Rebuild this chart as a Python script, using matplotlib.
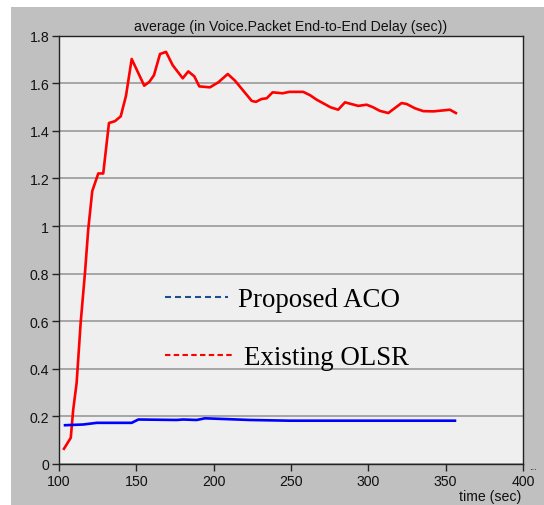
import matplotlib
matplotlib.use("Agg")
import matplotlib.pyplot as plt
from matplotlib.lines import Line2D
from matplotlib.patches import Rectangle

# series
olsr_time = [103.2, 107.6, 109.2, 111.4, 114.0, 116.8, 118.9, 121.5, 125.4, 128.6,
             132.3, 136.2, 139.9, 143.3, 147.0, 155.1, 158.4, 161.4, 165.3, 169.2,
             173.5, 180.0, 183.6, 187.5, 190.7, 197.6, 203.0, 209.1, 213.8, 224.6,
             227.3, 231.0, 234.3, 238.1, 244.6, 248.9, 257.9, 262.3, 266.6, 275.6,
             280.5, 284.9, 293.5, 298.9, 302.8, 307.5, 312.9, 321.5, 324.8, 330.1,
             335.5, 342.0, 348.4, 352.7, 356.6]
olsr_delay = [0.064, 0.110, 0.229, 0.341, 0.593, 0.804, 0.986, 1.147, 1.221, 1.221,
              1.433, 1.441, 1.461, 1.547, 1.702, 1.590, 1.606, 1.634, 1.723, 1.732,
              1.676, 1.621, 1.650, 1.629, 1.587, 1.583, 1.604, 1.639, 1.611, 1.526,
              1.522, 1.534, 1.537, 1.562, 1.558, 1.564, 1.564, 1.550, 1.531, 1.499,
              1.489, 1.520, 1.505, 1.510, 1.500, 1.484, 1.475, 1.517, 1.513, 1.495,
              1.483, 1.482, 1.486, 1.489, 1.475]

aco_time = [103.9, 115.7, 124.4, 147.0, 151.3, 176.1, 180.3, 189.0, 194.4, 223.5, 249.3, 356.0]
aco_delay = [0.163, 0.166, 0.173, 0.173, 0.187, 0.185, 0.187, 0.185, 0.192, 0.185, 0.182, 0.182]

x_ticks = [100, 150, 200, 250, 300, 350, 400]
y_ticks = [0, 0.2, 0.4, 0.6, 0.8, 1, 1.2, 1.4, 1.6, 1.8]
y_tick_labels = ["0", "0.2", "0.4", "0.6", "0.8", "1", "1.2", "1.4", "1.6", "1.8"]

title = "average (in Voice.Packet End-to-End Delay (sec))"
legend_labels = ["Proposed ACO", "Existing OLSR"]

SANS = "Liberation Sans"
FS = 10.2

fig = plt.figure(figsize=(5.44, 5.06), dpi=100, facecolor="white")

# grey panel behind the chart
fig.patches.append(Rectangle((11 / 544, 0), 1 - 11 / 544, 1 - 8 / 506,
                             transform=fig.transFigure, facecolor="#c0c0c0",
                             edgecolor="none", zorder=-5))

ax = fig.add_axes([59 / 544, 1 - 465 / 506, 464 / 544, (465 - 36.7) / 506])
ax.set_zorder(2)
ax.set_facecolor("#efefef")

ax.plot(olsr_time, olsr_delay, color="#ff0000", lw=1.9, zorder=3)
ax.plot(aco_time, aco_delay, color="#0000ff", lw=1.9, zorder=3)

ax.set_xlim(100, 400)
ax.set_ylim(0, 1.8)
ax.set_xticks(x_ticks)
ax.set_yticks(y_ticks)
ax.set_yticklabels(y_tick_labels)
ax.yaxis.grid(True, color="#a0a0a0", lw=1.3)
ax.set_axisbelow(True)

for sp in ax.spines.values():
    sp.set_color("#222222")
    sp.set_linewidth(1.0)
ax.tick_params(direction="out", length=5, width=1, color="#222222",
               labelsize=FS, labelcolor="#111111", pad=2)
for lbl in ax.get_xticklabels() + ax.get_yticklabels():
    lbl.set_family(SANS)

ax.set_title(title, fontsize=FS, family=SANS, pad=4, color="#111111")
fig.text(521 / 544, 1 - 497 / 506, "time (sec)", fontsize=FS, family=SANS,
         ha="right", va="center", color="#111111")
fig.text(533 / 544, 1 - 467 / 506, "...", fontsize=7, family=SANS,
         ha="center", va="center", color="#111111")

# the two legend rows have different handle lengths, so one legend each
leg_font = {"family": "Liberation Serif", "size": 19.4}
aco_handle = Line2D([], [], color="#1f4e8c", lw=1.5, ls=(0, (2.9, 1.9)))
olsr_handle = Line2D([], [], color="#ff0000", lw=1.5, ls=(0, (2.6, 1.6)))
leg1 = ax.legend([aco_handle], [legend_labels[0]], loc="upper left",
                 bbox_to_anchor=(0.177, 0.47), frameon=False, prop=leg_font,
                 handlelength=2.34, handletextpad=0.37)
ax.add_artist(leg1)
ax.legend([olsr_handle], [legend_labels[1]], loc="upper left",
          bbox_to_anchor=(0.177, 0.3346), frameon=False, prop=leg_font,
          handlelength=2.6, handletextpad=0.3)

fig.savefig("out.png", dpi=100)
